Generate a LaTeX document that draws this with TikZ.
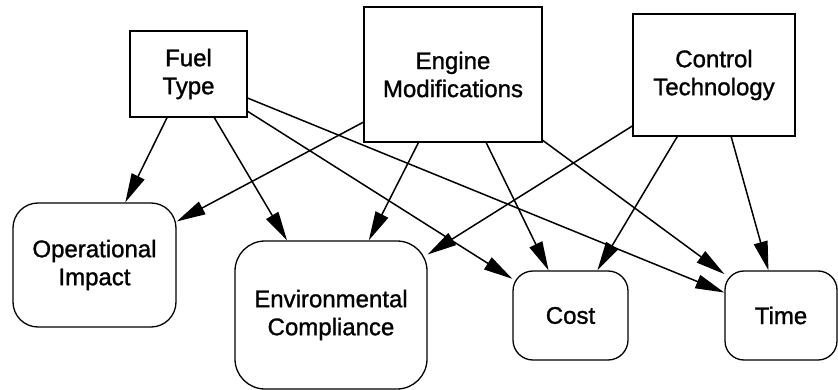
\documentclass[tikz,border=0pt]{standalone}
\usepackage{fontspec}
\setmainfont{Liberation Sans}
\newfontfamily\labelfont[FakeBold=1.2]{Liberation Sans}
\usetikzlibrary{arrows.meta}
\begin{document}
\begin{tikzpicture}[x=1pt,y=-1pt,
  box/.style={draw, line width=1.3pt, align=center, inner sep=0pt,
    font=\labelfont\fontsize{24}{28}\selectfont},
  factor/.style={box, rectangle},
  outcome/.style={box, rectangle, rounded corners=#1},
  link/.style={line width=1.5pt, -{Triangle[length=29pt,width=14pt]}}
]
\useasboundingbox (0,0) rectangle (838,390);

% decision factors (top row)
\node[factor, minimum width=117pt, minimum height=86pt]  (fuel)    at (188.5,74)  {Fuel\\Type};
\node[factor, minimum width=178pt, minimum height=135pt] (engine)  at (453,74.5)  {Engine\\Modifications};
\node[factor, minimum width=162pt, minimum height=122pt] (control) at (714,75)    {Control\\Technology};

% outcomes (bottom row)
\node[outcome=25pt, minimum width=163pt, minimum height=124pt] (ops)  at (94.5,265)  {Operational\\Impact};
\node[outcome=30pt, minimum width=192pt, minimum height=148pt] (env)  at (331,315)   {Environmental\\Compliance};
\node[outcome=20pt, minimum width=115pt, minimum height=89pt]  (cost) at (570.5,315.5) {Cost};
\node[outcome=19pt, minimum width=112pt, minimum height=89pt]  (time) at (781,315.5) {Time};

% influences
\draw[link] (fuel) -- (ops);
\draw[link] (fuel) -- (env);
\draw[link] (fuel) -- (cost);
\draw[link] (fuel) -- (time);
\draw[link] (engine) -- (ops);
\draw[link] (engine) -- (env);
\draw[link] (engine) -- (cost);
\draw[link] (engine) -- (time);
\draw[link] (control) -- (env);
\draw[link] (control) -- (cost);
\draw[link] (control) -- (time);
\end{tikzpicture}
\end{document}
